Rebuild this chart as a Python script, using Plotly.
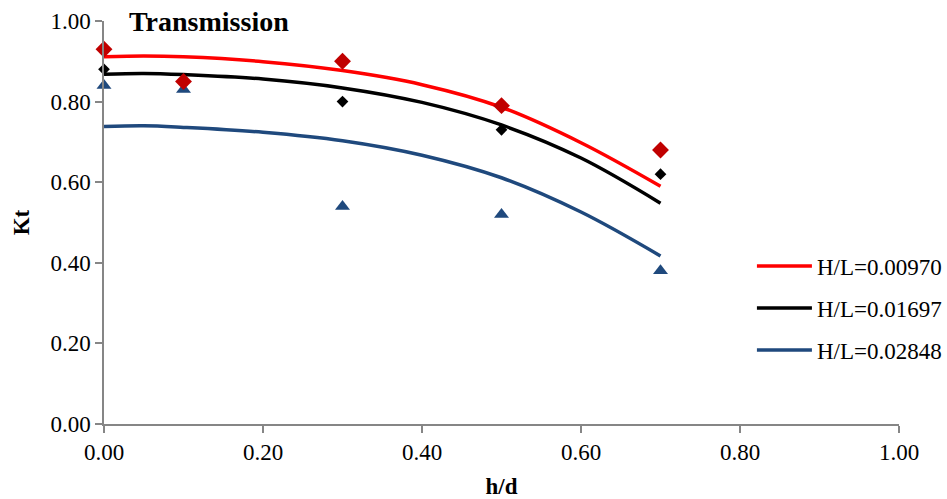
import plotly.graph_objects as go

# Measured points
hd = [0.0, 0.1, 0.3, 0.5, 0.7]
kt_00970 = [0.93, 0.85, 0.90, 0.79, 0.68]
kt_01697 = [0.88, 0.85, 0.80, 0.73, 0.62]
kt_02848 = [0.84, 0.83, 0.54, 0.52, 0.38]

# Trend-line values
hd_fit = [0.0, 0.05, 0.1, 0.2, 0.3, 0.4, 0.5, 0.6, 0.7]
fit_00970 = [0.911, 0.913, 0.911, 0.899, 0.877, 0.842, 0.786, 0.698, 0.590]
fit_01697 = [0.868, 0.870, 0.867, 0.856, 0.834, 0.798, 0.742, 0.660, 0.548]
fit_02848 = [0.738, 0.740, 0.736, 0.724, 0.703, 0.667, 0.611, 0.526, 0.417]

names = ["H/L=0.00970", "H/L=0.01697", "H/L=0.02848"]
x_ticks = [0.0, 0.2, 0.4, 0.6, 0.8, 1.0]
y_ticks = [0.0, 0.2, 0.4, 0.6, 0.8, 1.0]

FONT = "Liberation Serif, Times New Roman, serif"

fig = go.Figure()

line_colors = ["#FF0000", "#000000", "#1F497D"]
marker_colors = ["#C00000", "#000000", "#1F497D"]
marker_symbols = ["diamond", "diamond", "triangle-up"]
marker_sizes = [13, 9, 13]
fits = [fit_00970, fit_01697, fit_02848]
pts = [kt_00970, kt_01697, kt_02848]

for i in range(3):
    fig.add_trace(go.Scatter(
        x=hd_fit, y=fits[i], mode="lines", name=names[i],
        line=dict(color=line_colors[i], width=3.5, shape="spline"),
        legendgroup=f"g{i}",
    ))
for i in [1, 2, 0]:
    fig.add_trace(go.Scatter(
        x=hd, y=pts[i], mode="markers", showlegend=False,
        marker=dict(color=marker_colors[i], symbol=marker_symbols[i], size=marker_sizes[i]),
        cliponaxis=False,
    ))

axis_common = dict(
    showgrid=False, zeroline=False, showline=True, linecolor="#868686", linewidth=1.5,
    ticks="outside", ticklen=7, tickcolor="#868686", tickwidth=1.5,
    tickfont=dict(family=FONT, size=23, color="#000000"),
    tickformat=".2f", automargin=False,
)

fig.update_xaxes(range=[0, 1], tickvals=x_ticks, **axis_common,
                 title=dict(text="<b>h/d</b>", font=dict(family=FONT, size=23, color="#000"), standoff=15))
fig.update_yaxes(range=[0, 1], tickvals=y_ticks, **axis_common,
                 title=dict(text="<b>Kt</b>", font=dict(family=FONT, size=23, color="#000"), standoff=14))

fig.add_annotation(
    text="<b>Transmission</b>", xref="paper", yref="paper", x=0.029, y=1.0,
    xanchor="left", yanchor="middle", showarrow=False,
    font=dict(family=FONT, size=28, color="#000"),
)

fig.update_layout(
    width=947, height=499,
    margin=dict(l=104, r=48, t=21, b=75, autoexpand=False),
    paper_bgcolor="white", plot_bgcolor="white",
    font=dict(family=FONT, size=23, color="#000"),
    legend=dict(x=0.815, y=0.445, xanchor="left", yanchor="top",
                font=dict(family=FONT, size=23, color="#000"),
                tracegroupgap=9, itemwidth=55, bgcolor="rgba(0,0,0,0)"),
    showlegend=True,
)

fig.write_html("out.html")
